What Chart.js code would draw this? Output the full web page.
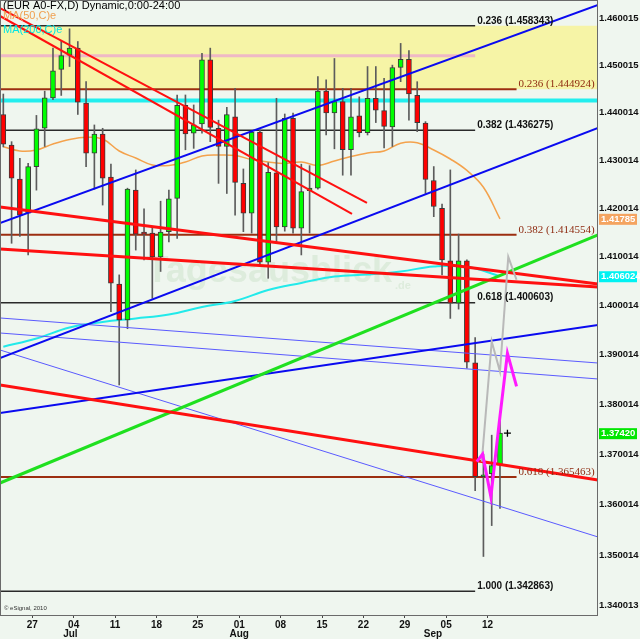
<!DOCTYPE html>
<html>
<head>
<meta charset="utf-8">
<title>EUR A0-FX daily</title>
<script src="https://cdn.jsdelivr.net/npm/chart.js@4.4.1/dist/chart.umd.min.js"></script>
<style>
  html, body { margin: 0; padding: 0; background: #eff6ef; }
  canvas { display: block; }
</style>
</head>
<body>
<canvas id="chart" width="640" height="639"></canvas>
<script>
// daily candles, index = trading day (22 Jun .. 14 Sep 2010)
const opens  = [1.4396,1.4332,1.4261,1.4190,1.4287,1.4367,1.4431,1.4491,1.4521,1.4536,
                1.4420,1.4315,1.4355,1.4265,1.4044,1.3971,1.4238,1.4149,1.4149,1.4100,
                1.4152,1.4221,1.4415,1.4357,1.4376,1.4511,1.4367,1.4329,1.4391,1.4252,
                1.4190,1.4359,1.4089,1.4274,1.4162,1.4388,1.4159,1.4237,1.4242,1.4445,
                1.4399,1.4423,1.4322,1.4393,1.4358,1.4430,1.4404,1.4370,1.4495,1.4512,
                1.4436,1.4378,1.4258,1.4200,1.4092,1.4005,1.4092,1.3884,1.3655,1.3661,1.3678];
const highs  = [1.4439,1.4339,1.4304,1.4294,1.4394,1.4445,1.4536,1.4551,1.4577,1.4550,
                1.4465,1.4374,1.4367,1.4292,1.4063,1.4242,1.4280,1.4199,1.4162,1.4215,
                1.4238,1.4437,1.4437,1.4416,1.4525,1.4536,1.4384,1.4411,1.4451,1.4282,
                1.4360,1.4364,1.4295,1.4430,1.4397,1.4399,1.4292,1.4289,1.4476,1.4469,
                1.4514,1.4451,1.4451,1.4433,1.4497,1.4497,1.4472,1.4500,1.4546,1.4531,
                1.4465,1.4381,1.4287,1.4209,1.4280,1.4147,1.4094,1.3935,1.3700,1.3738,1.3782];
const lows   = [1.4328,1.4128,1.4142,1.4104,1.4238,1.4329,1.4427,1.4436,1.4497,1.4396,
                1.4287,1.4240,1.4207,1.3988,1.3839,1.3953,1.4114,1.4094,1.4015,1.4070,
                1.4131,1.4138,1.4322,1.4325,1.4357,1.4339,1.4252,1.4231,1.4186,1.4152,
                1.4149,1.4083,1.4056,1.4131,1.4153,1.4149,1.4104,1.4149,1.4240,1.4353,
                1.4324,1.4269,1.4269,1.4349,1.4353,1.4379,1.4326,1.4329,1.4465,1.4384,
                1.4360,1.4231,1.4183,1.4063,1.3974,1.3993,1.3873,1.3627,1.3497,1.3558,1.3592];
const closes = [1.4334,1.4263,1.4186,1.4287,1.4366,1.4431,1.4488,1.4520,1.4536,1.4422,
                1.4315,1.4355,1.4263,1.4046,1.3971,1.4240,1.4147,1.4147,1.4100,1.4151,
                1.4220,1.4415,1.4355,1.4374,1.4511,1.4369,1.4329,1.4396,1.4254,1.4190,
                1.4359,1.4089,1.4275,1.4162,1.4388,1.4159,1.4235,1.4242,1.4445,1.4399,
                1.4423,1.4322,1.4391,1.4358,1.4430,1.4405,1.4371,1.4495,1.4512,1.4439,
                1.4379,1.4260,1.4204,1.4094,1.4005,1.4092,1.3885,1.3655,1.3659,1.3677,1.3742];

// moving averages (read every few bars)
const ma50X = [0,2,4,6,8,10,12,14,16,18,20,22,24,26,28,30,32,34,36,38,40,42,44,46,48,50,52,54,56,58,60];
const ma50  = [1.43285,1.43195,1.43216,1.43341,1.43435,1.43481,1.43446,1.43195,1.43049,1.42903,
               1.42892,1.42965,1.43090,1.43111,1.43101,1.43017,1.42965,1.42934,1.42965,1.42892,
               1.42986,1.43080,1.43153,1.43195,1.43356,1.43366,1.43216,1.43028,1.42790,1.42440,1.41785];
const ma200X = [0,4,8,12,16,20,24,28,32,36,40,44,48,52,56,60];
const ma200  = [1.39165,1.39331,1.39555,1.39667,1.39739,1.39820,1.39973,1.40096,
                1.40320,1.40464,1.40597,1.40638,1.40700,1.40802,1.40799,1.406024];

const yTicks = [1.340013,1.350014,1.360014,1.370014,1.380014,1.390014,1.400014,
                1.410014,1.420014,1.430014,1.440014,1.450015,1.460015];
const weekPos = [3.5,8.5,13.5,18.5,23.5,28.5,33.5,38.5,43.5,48.5,53.5,58.5];
const weekLabels = ['27','04','11','18','25','01','08','15','22','29','05','12'];
const monthPos = [8.1,28.5,51.9];
const monthLabels = ['Jul','Aug','Sep'];

const xMin = -0.4, xMax = 71.84;
const yMin = 1.33823, yMax = 1.46384;

// retracements
const fibLevels = [1.458343,1.436275,1.400603,1.342863];
const fibNames = ['0.236','0.382','0.618','1.000'];
const fibEnd = 57;
const fib2Levels = [1.444924,1.414554,1.365463];
const fib2Names = ['0.236','0.382','0.618'];
const fib2End = 62;
const zoneTop = 1.458343, zoneBottom = 1.444924;
const pinkLevel = 1.45199;
const cyanLevel = 1.44254;

// trend lines: [x1, y1, x2, y2]
const blueLines = [[xMin,1.41699,xMax,1.46277],[xMin,1.38936,xMax,1.43676],[xMin,1.37825,xMax,1.39606]];
const blueThin  = [[xMin,1.39749,xMax,1.38834],[xMin,1.39443,xMax,1.38511],[xMin,1.39098,xMax,1.35355]];
const redLines  = [[xMin,1.42030,xMax,1.40444],[xMin,1.41162,xMax,1.40382],[xMin,1.38390,xMax,1.36485]];
const redThin   = [[xMin,1.46213,43.93,1.42113],[xMin,1.46043,42.12,1.41885]];
const greenLines = [[xMin,1.36425,xMax,1.41451]];

// projected path
const grayX = [57.8,59,60,61,62];
const grayY = [1.3685,1.3927,1.3866,1.4100,1.4053];
const pinkX = [57.2,57.9,58.9,59.9,60.9,62];
const pinkY = [1.3685,1.3700,1.3615,1.3762,1.3903,1.3836];
const cursor = [60.9,1.3742];

const sans = "'Liberation Sans', Arial, sans-serif";

function seg(p, color, width, order) {
  return {
    type: 'line',
    data: [{x: p[0], y: p[1]}, {x: p[2], y: p[3]}],
    borderColor: color, borderWidth: width,
    pointRadius: 0, fill: false, order: order
  };
}
function level(v, x2, color, width, order) {
  return seg([xMin, v, x2, v], color, width, order);
}

const datasets = [
  // yellow zone
  {type: 'line', data: [{x: xMin, y: zoneTop}, {x: xMax, y: zoneTop}],
   borderColor: 'transparent', borderWidth: 0, pointRadius: 0, fill: '+1',
   backgroundColor: '#f6f4a6', order: 30},
  {type: 'line', data: [{x: xMin, y: zoneBottom}, {x: xMax, y: zoneBottom}],
   borderColor: 'transparent', borderWidth: 0, pointRadius: 0, fill: false, order: 31},
  level(cyanLevel, xMax, '#22eeee', 4, 25),
  level(pinkLevel, fibEnd, '#efb8c6', 3, 24)
];
fibLevels.forEach(v => datasets.push(level(v, fibEnd, '#2a2a2a', 1.6, 20)));
fib2Levels.forEach(v => datasets.push(level(v, fib2End, '#9c2e10', 2, 20)));

datasets.push({
  type: 'line', data: ma200X.map((x, i) => ({x: x, y: ma200[i]})),
  borderColor: '#22eaea', borderWidth: 2, pointRadius: 0, tension: 0.4, fill: false, order: 15
});
datasets.push({
  type: 'line', data: ma50X.map((x, i) => ({x: x, y: ma50[i]})),
  borderColor: '#f4a24c', borderWidth: 1.5, pointRadius: 0, tension: 0.4, fill: false, order: 15
});

// candles
datasets.push({
  type: 'bar', data: lows.map((l, i) => ({x: i, y: [l, highs[i]]})),
  backgroundColor: '#5c5c5c', barThickness: 1, grouped: false, order: 12
});
datasets.push({
  type: 'bar', data: opens.map((o, i) => ({x: i, y: [o, closes[i]]})),
  backgroundColor: opens.map((o, i) => closes[i] >= o ? '#00ff00' : '#ff0000'),
  borderColor: '#3a3a3a', borderWidth: 1, borderSkipped: false,
  barThickness: 5, minBarLength: 2, grouped: false, order: 11
});

blueLines.forEach(p => datasets.push(seg(p, '#0a0af0', 2, 8)));
blueThin.forEach(p => datasets.push(seg(p, '#5a5aff', 1, 8)));
redLines.forEach(p => datasets.push(seg(p, '#ff1010', 3, 7)));
redThin.forEach(p => datasets.push(seg(p, '#ff1010', 2, 7)));
greenLines.forEach(p => datasets.push(seg(p, '#1fe01f', 3, 7)));

datasets.push({
  type: 'line', data: grayX.map((x, i) => ({x: x, y: grayY[i]})),
  borderColor: '#b9b9b9', borderWidth: 2, pointRadius: 0, fill: false, order: 3
});
datasets.push({
  type: 'line', data: pinkX.map((x, i) => ({x: x, y: pinkY[i]})),
  borderColor: '#ff1aff', borderWidth: 3, pointRadius: 0, fill: false, order: 2
});
datasets.push({
  type: 'scatter', data: [{x: cursor[0], y: cursor[1]}],
  pointStyle: 'cross', pointRadius: 3.5, borderColor: '#000', borderWidth: 1.3, order: 1
});

const panel = {
  id: 'panel',
  beforeDraw(chart) {
    const {ctx, width, height} = chart;
    ctx.save();
    ctx.fillStyle = '#eff6ef';
    ctx.fillRect(0, 0, width, height);
    ctx.restore();
  },
  beforeDatasetsDraw(chart) {
    const {ctx, chartArea: a} = chart;
    ctx.save();
    ctx.fillStyle = 'rgba(185,214,180,0.32)';
    ctx.textBaseline = 'middle';
    ctx.font = "bold 36px " + sans;
    const tx = a.left + a.width * 0.245, ty = a.top + a.height * 0.443;
    ctx.fillText('Tagesausblick', tx, ty);
    const w = ctx.measureText('Tagesausblick').width;
    ctx.font = "bold 11px " + sans;
    ctx.fillText('.de', tx + w + 3, ty + 14);
    ctx.restore();
  },
  afterDatasetsDraw(chart) {
    const {ctx, chartArea: a} = chart;
    const x = chart.scales.x, y = chart.scales.y;
    ctx.save();
    ctx.textBaseline = 'middle';
    ctx.font = "bold 10px " + sans;
    ctx.fillStyle = '#111';
    fibLevels.forEach((v, i) => {
      ctx.fillText(fibNames[i] + ' (' + v.toFixed(6) + ')', x.getPixelForValue(fibEnd) + 2, y.getPixelForValue(v) - 5);
    });
    ctx.font = "11px 'Liberation Serif', 'Times New Roman', serif";
    ctx.fillStyle = '#8e2a10';
    fib2Levels.forEach((v, i) => {
      ctx.fillText(fib2Names[i] + ' (' + v.toFixed(6) + ')', x.getPixelForValue(fib2End) + 2, y.getPixelForValue(v) - 5);
    });

    ctx.font = "11px " + sans;
    ctx.fillStyle = '#000';
    ctx.fillText('(EUR A0-FX,D) Dynamic,0:00-24:00', a.left + 3, a.top + 6);
    ctx.fillStyle = '#f0a050';
    ctx.fillText('MA(50,C)e', a.left + 3, a.top + 16);
    ctx.fillStyle = '#00e4e4';
    ctx.fillText('MA(200,C)e', a.left + 3, a.top + 30);

    ctx.font = "6px " + sans;
    ctx.fillStyle = '#333';
    ctx.fillText('\u00a9 eSignal, 2010', a.left + 4, a.bottom - 7);
    ctx.restore();
  },
  afterDraw(chart) {
    const {ctx, chartArea: a} = chart;
    const x = chart.scales.x, y = chart.scales.y;
    ctx.save();
    ctx.strokeStyle = '#6a6a6a';
    ctx.lineWidth = 1;
    ctx.strokeRect(a.left + 0.5, a.top + 0.5, a.width - 1, a.height);

    const boxes = [
      [ma50[ma50.length - 1], ma50[ma50.length - 1].toFixed(5), '#f4a460'],
      [ma200[ma200.length - 1], ma200[ma200.length - 1].toFixed(6), '#00f2f2'],
      [closes[closes.length - 1], closes[closes.length - 1].toFixed(5), '#00e600']
    ];
    ctx.textBaseline = 'middle';
    ctx.font = 'bold 9.5px ' + sans;
    boxes.forEach(b => {
      const py = y.getPixelForValue(b[0]);
      ctx.fillStyle = b[2];
      ctx.fillRect(a.right + 1, py - 5, 38, 11);
      ctx.fillStyle = '#fff';
      ctx.fillText(b[1], a.right + 3, py + 0.5);
    });

    ctx.fillStyle = '#111';
    ctx.textAlign = 'center';
    ctx.font = 'bold 10px ' + sans;
    monthLabels.forEach((m, i) => ctx.fillText(m, x.getPixelForValue(monthPos[i]), a.bottom + 19));
    ctx.restore();
  }
};

new Chart(document.getElementById('chart'), {
  type: 'bar',
  data: {datasets: datasets},
  options: {
    responsive: false,
    animation: false,
    devicePixelRatio: 1,
    layout: {padding: 0, autoPadding: false},
    plugins: {legend: {display: false}, tooltip: {enabled: false}},
    scales: {
      x: {
        type: 'linear', min: xMin, max: xMax, offset: false,
        grid: {display: true, offset: false, drawOnChartArea: false, drawTicks: true, tickLength: 3, color: '#444'},
        border: {display: false},
        afterBuildTicks: s => { s.ticks = weekPos.map(v => ({value: v})); },
        afterFit: s => { s.height = 24; s.paddingLeft = 0; s.paddingRight = 0; },
        ticks: {
          autoSkip: false, maxRotation: 0, padding: 1, color: '#111',
          font: {family: sans, size: 10, weight: 'bold'},
          callback: (v, i) => weekLabels[i]
        }
      },
      y: {
        type: 'logarithmic', position: 'right', min: yMin, max: yMax,
        grid: {display: false, drawTicks: false},
        border: {display: false},
        afterBuildTicks: s => { s.ticks = yTicks.map(v => ({value: v})); },
        afterFit: s => { s.width = 42; s.paddingTop = 0; s.paddingBottom = 0; },
        ticks: {
          autoSkip: false, padding: 1, color: '#111',
          font: {family: sans, size: 9.5, weight: 'bold'},
          callback: v => v.toFixed(6)
        }
      }
    }
  },
  plugins: [panel]
});
</script>
</body>
</html>
